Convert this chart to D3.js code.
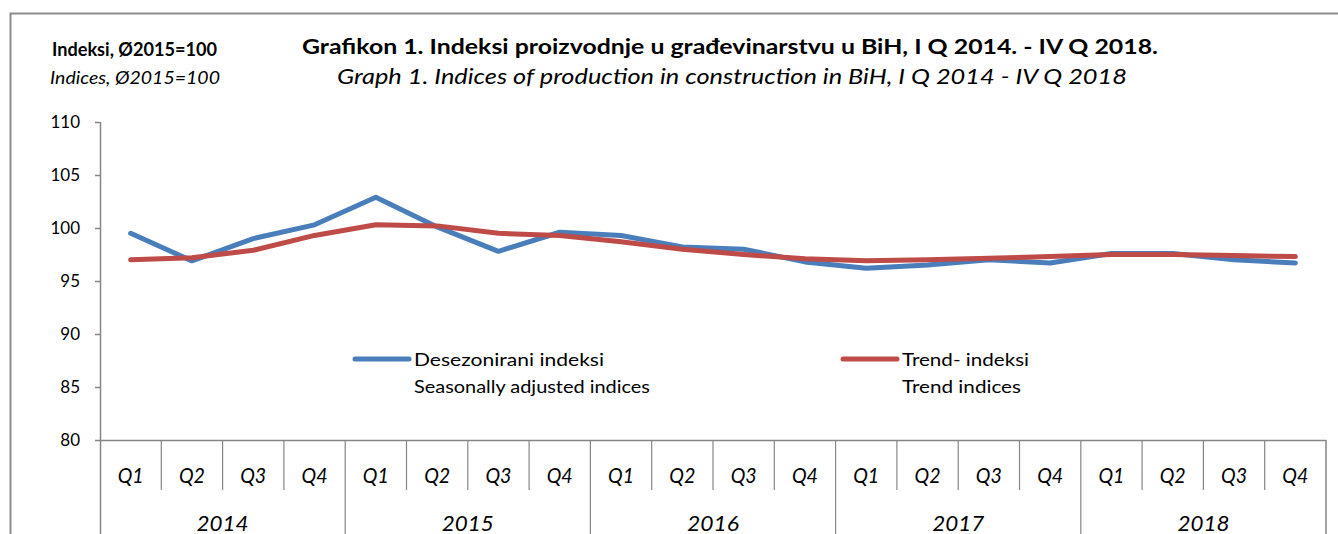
<!DOCTYPE html>
<html>
<head>
<meta charset="utf-8">
<script src="https://cdn.jsdelivr.net/npm/d3@7"></script>
<style>
  body { margin: 0; background: #fff; }
  text { font-family: Lato, "Open Sans", sans-serif; fill: #000; }
</style>
</head>
<body>
<div id="chart"></div>
<script>
// podaci
var years = ["2014", "2015", "2016", "2017", "2018"];
var quarters = ["Q1", "Q2", "Q3", "Q4"];
var seasonal = [99.5, 96.9, 99.0, 100.3, 102.9, 100.1, 97.8, 99.6,
                99.3, 98.2, 98.0, 96.8, 96.2, 96.5, 97.0, 96.7,
                97.6, 97.6, 97.0, 96.7];
var trend = [97.0, 97.2, 97.9, 99.3, 100.3, 100.2, 99.5, 99.3,
             98.7, 98.0, 97.5, 97.1, 96.9, 97.0, 97.15, 97.3,
             97.5, 97.5, 97.4, 97.3];
var yTicks = [80, 85, 90, 95, 100, 105, 110];

var width = 1338,
    height = 534,
    plotL = 100, plotR = 1326,
    plotT = 122, plotB = 440,
    axisColor = "#868686";

var svg = d3.select("#chart").append("svg")
    .attr("width", width)
    .attr("height", height);

// okvir
svg.append("path")
    .attr("d", "M10.5," + height + "V13.5H" + width)
    .attr("fill", "none")
    .attr("stroke", "#8c8c8c")
    .attr("stroke-width", 2);

var cats = d3.range(years.length * quarters.length);

var x = d3.scaleBand()
    .domain(cats)
    .range([plotL, plotR]);

var y = d3.scaleLinear()
    .domain([80, 110])
    .range([plotB, plotT]);

// y osa
var yAxis = svg.append("g")
    .attr("transform", "translate(" + plotL + ",0)")
    .call(d3.axisLeft(y).tickValues(yTicks).tickSize(5).tickPadding(15));
yAxis.select(".domain").remove();
yAxis.selectAll(".tick line").attr("stroke", axisColor).attr("stroke-width", 1.5);
yAxis.selectAll(".tick text")
    .style("font-size", "17px")
    .attr("fill", "#000");

svg.append("line")
    .attr("x1", plotL + 0.5).attr("x2", plotL + 0.5)
    .attr("y1", plotT).attr("y2", height)
    .attr("stroke", axisColor).attr("stroke-width", 1.5);

// x osa
svg.append("line")
    .attr("x1", plotL).attr("x2", plotR)
    .attr("y1", plotB + 0.5).attr("y2", plotB + 0.5)
    .attr("stroke", axisColor).attr("stroke-width", 1.5);

cats.forEach(function(i) {
    if (i === 0) return;
    var isYear = i % 4 === 0;
    svg.append("line")
        .attr("x1", x(i)).attr("x2", x(i))
        .attr("y1", plotB).attr("y2", isYear ? height : 490)
        .attr("stroke", axisColor).attr("stroke-width", 1.2);
});
svg.append("line")
    .attr("x1", plotR).attr("x2", plotR)
    .attr("y1", plotB).attr("y2", height)
    .attr("stroke", axisColor).attr("stroke-width", 1.5);

svg.selectAll(".qlab")
    .data(cats)
    .enter().append("text")
    .attr("class", "qlab")
    .attr("x", function(i) { return x(i) + x.bandwidth() / 2; })
    .attr("y", 483)
    .attr("text-anchor", "middle")
    .attr("textLength", 26)
    .attr("lengthAdjust", "spacingAndGlyphs")
    .style("font-size", "21px")
    .style("font-style", "italic")
    .text(function(i) { return quarters[i % 4]; });

svg.selectAll(".ylab")
    .data(years)
    .enter().append("text")
    .attr("class", "ylab")
    .attr("x", function(d, i) { return x(i * 4) + x.bandwidth() * 2; })
    .attr("y", 531)
    .attr("text-anchor", "middle")
    .attr("textLength", 52)
    .attr("lengthAdjust", "spacingAndGlyphs")
    .style("font-size", "21px")
    .style("font-style", "italic")
    .text(function(d) { return d; });

// linije
var line = d3.line()
    .x(function(d, i) { return x(i) + x.bandwidth() / 2; })
    .y(function(d) { return y(d); });

svg.append("path")
    .datum(seasonal)
    .attr("d", line)
    .attr("fill", "none")
    .attr("stroke", "#4a7ebb")
    .attr("stroke-width", 5)
    .attr("stroke-linecap", "round")
    .attr("stroke-linejoin", "round");

svg.append("path")
    .datum(trend)
    .attr("d", line)
    .attr("fill", "none")
    .attr("stroke", "#be4b48")
    .attr("stroke-width", 5)
    .attr("stroke-linecap", "round")
    .attr("stroke-linejoin", "round");

// legenda
var legend = [
    {x: 355, color: "#4a7ebb", l1: "Desezonirani indeksi", l2: "Seasonally adjusted indices", w1: 190, w2: 236},
    {x: 843, color: "#be4b48", l1: "Trend- indeksi", l2: "Trend indices", w1: 127, w2: 119}
];
legend.forEach(function(d) {
    svg.append("line")
        .attr("x1", d.x).attr("x2", d.x + 54)
        .attr("y1", 359).attr("y2", 359)
        .attr("stroke", d.color).attr("stroke-width", 5)
        .attr("stroke-linecap", "round");
    svg.append("text").attr("x", d.x + 59).attr("y", 366)
        .attr("textLength", d.w1).attr("lengthAdjust", "spacingAndGlyphs")
        .style("font-size", "18px").text(d.l1);
    svg.append("text").attr("x", d.x + 59).attr("y", 393)
        .attr("textLength", d.w2).attr("lengthAdjust", "spacingAndGlyphs")
        .style("font-size", "18px").text(d.l2);
});

// naslovi
svg.append("text")
    .attr("x", 730).attr("y", 54)
    .attr("text-anchor", "middle")
    .attr("textLength", 856)
    .attr("lengthAdjust", "spacingAndGlyphs")
    .style("font-size", "21px").style("font-weight", "bold")
    .text("Grafikon 1. Indeksi  proizvodnje u građevinarstvu u BiH, I Q 2014. - IV Q 2018.");
svg.append("text")
    .attr("x", 732).attr("y", 84)
    .attr("text-anchor", "middle")
    .attr("textLength", 790)
    .attr("lengthAdjust", "spacingAndGlyphs")
    .style("font-size", "21px").style("font-style", "italic")
    .text("Graph 1. Indices of production in construction in BiH, I Q 2014 - IV Q 2018");

svg.append("text")
    .attr("x", 52).attr("y", 56)
    .attr("textLength", 165)
    .attr("lengthAdjust", "spacingAndGlyphs")
    .style("font-size", "18px").style("font-weight", "bold")
    .text("Indeksi, Ø2015=100");
svg.append("text")
    .attr("x", 50).attr("y", 84)
    .attr("textLength", 170)
    .attr("lengthAdjust", "spacingAndGlyphs")
    .style("font-size", "18px").style("font-style", "italic")
    .text("Indices, Ø2015=100");
</script>
</body>
</html>
